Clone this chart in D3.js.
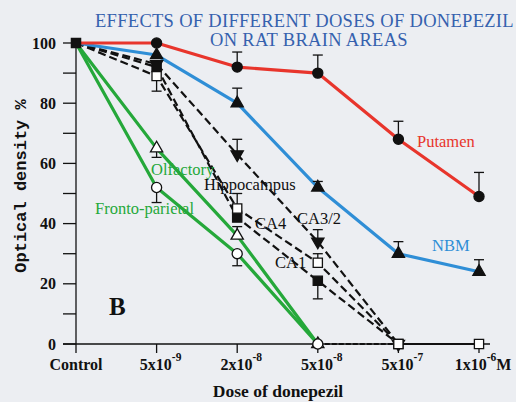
<!DOCTYPE html>
<html><head><meta charset="utf-8">
<script src="https://cdn.jsdelivr.net/npm/d3@7/dist/d3.min.js"></script>
<style>
html,body{margin:0;padding:0;background:#eceef2;overflow:hidden;}
svg{display:block;}
</style></head>
<body>
<svg id="c" width="516" height="402"></svg>
<script>
// ---- data ----
const doses = ["Control", "5e-9", "2e-8", "5e-8", "5e-7", "1e-6"];
const doseMantissa = ["Control", "5x10", "2x10", "5x10", "5x10", "1x10"];
const doseExp = ["", "-9", "-8", "-8", "-7", "-6"];
const yTicks = [0, 20, 40, 60, 80, 100];

const putamen = [100, 100, 92, 90, 68, 49];
const putamenErr = [0, 0, 5, 6, 6, 8];
const nbm = [100, 96, 80, 52, 30, 24];
const nbmErr = [0, 0, 5, 2, 4, 4];
const hippocampus = [100, 89, 45, 27, 0, 0];
const hippocampusErr = [0, -5, 5, 3, 0, 0];
const ca4 = [100, 92, 42, 21, 0];
const ca4Err = [0, 0, 0, -6, 0];
const ca32 = [100, 93, 63, 34, 0];
const ca32Err = [0, 0, 5, 4, 0];
const olfactory = [100, 65, 36, 0];
const olfactoryErr = [0, -3, 3, 0];
const fronto = [100, 52, 30, 0];
const frontoErr = [0, -5, -4, 0];
const zeroTail = [0, 0]; // dashed segment from 5e-8 to 5e-7 at 0

// ---- scales ----
const svg = d3.select("#c");
const x = d3.scalePoint().domain(doses).range([76, 479]);
const y = d3.scaleLinear().domain([0, 100]).range([344, 43]);

const RED = "#e8352c", BLUE = "#2f8ed6", GREEN = "#25a83a", BLACK = "#111";
const serif = "'Liberation Serif', 'Times New Roman', serif";

// title
svg.append("text").attr("x", 95).attr("y", 27).attr("fill", "#3561ae")
  .attr("font-family", serif).attr("font-size", 18.5).attr("letter-spacing", 0.3).text("EFFECTS OF DIFFERENT DOSES OF DONEPEZIL");
svg.append("text").attr("x", 309).attr("y", 46).attr("fill", "#3561ae").attr("text-anchor", "middle")
  .attr("font-family", serif).attr("font-size", 18.5).attr("letter-spacing", 0.3).text("ON RAT BRAIN AREAS");

// y axis
const gy = svg.append("g");
gy.append("line").attr("x1", 76).attr("x2", 76).attr("y1", y(100)).attr("y2", y(0)).attr("stroke", BLACK).attr("stroke-width", 1.3);
d3.range(0, 101, 10).forEach(v => {
  gy.append("line").attr("x1", 63).attr("x2", 76).attr("y1", y(v)).attr("y2", y(v)).attr("stroke", BLACK).attr("stroke-width", 1.3);
});
yTicks.forEach(v => {
  gy.append("text").attr("x", 56).attr("y", y(v) + 5.5).attr("text-anchor", "end")
    .attr("font-family", serif).attr("font-weight", "bold").attr("font-size", 16).attr("fill", BLACK).text(v);
});
svg.append("text").attr("transform", "translate(26,186) rotate(-90)").attr("text-anchor", "middle")
  .attr("font-family", "'Liberation Mono', 'Courier New', monospace").attr("font-weight", "bold")
  .attr("font-size", 17).attr("fill", BLACK).text("Optical density %");

// x axis
const gx = svg.append("g");
gx.append("line").attr("x1", 63).attr("x2", 490).attr("y1", y(0)).attr("y2", y(0)).attr("stroke", BLACK).attr("stroke-width", 1.3);
doses.forEach((d, i) => {
  gx.append("line").attr("x1", x(d)).attr("x2", x(d)).attr("y1", y(0)).attr("y2", y(0) + 9).attr("stroke", BLACK).attr("stroke-width", 1.3);
  const t = gx.append("text").attr("x", x(d) + (doseExp[i] ? 4 : 0)).attr("y", 370).attr("text-anchor", "middle")
    .attr("font-family", serif).attr("font-weight", "bold").attr("font-size", 16).attr("fill", BLACK);
  t.append("tspan").text(doseMantissa[i]);
  if (doseExp[i]) {
    t.append("tspan").attr("dy", -9).attr("font-size", 11.5).text(doseExp[i]);
    if (i === doses.length - 1) t.append("tspan").attr("dy", 9).text("M");
  }
});
svg.append("text").attr("x", 278).attr("y", 397).attr("text-anchor", "middle")
  .attr("font-family", serif).attr("font-weight", "bold").attr("font-size", 17.5).attr("fill", BLACK).text("Dose of donepezil");

svg.append("text").attr("x", 109).attr("y", 315).attr("font-family", serif).attr("font-weight", "bold")
  .attr("font-size", 25).attr("fill", BLACK).text("B");

// ---- series drawing ----
const line = d3.line().x((d, i) => x(doses[i])).y(d => y(d));
function drawLine(vals, color, dash, w) {
  svg.append("path").datum(vals).attr("d", line).attr("fill", "none").attr("stroke", color)
    .attr("stroke-width", w).attr("stroke-dasharray", dash || null).attr("stroke-linejoin", "round");
}
function drawErr(vals, errs) {
  vals.forEach((v, i) => {
    const e = errs[i]; if (!e) return;
    const cx = x(doses[i]);
    svg.append("line").attr("x1", cx).attr("x2", cx).attr("y1", y(v)).attr("y2", y(v + e)).attr("stroke", BLACK).attr("stroke-width", 1.3);
    svg.append("line").attr("x1", cx - 5).attr("x2", cx + 5).attr("y1", y(v + e)).attr("y2", y(v + e)).attr("stroke", BLACK).attr("stroke-width", 1.3);
  });
}
function drawMarkers(vals, type, fill, skipFirst) {
  vals.forEach((v, i) => {
    if (skipFirst && i === 0) return;
    const cx = x(doses[i]), cy = y(v);
    let sym;
    if (type === "circle") sym = d3.symbol(d3.symbolCircle, 80);
    else if (type === "square") sym = d3.symbol(d3.symbolSquare, 85);
    else sym = d3.symbol(d3.symbolTriangle, 65);
    const p = svg.append("path").attr("d", sym()).attr("fill", fill).attr("stroke", BLACK).attr("stroke-width", 1.3);
    if (type === "down") p.attr("transform", `translate(${cx},${cy}) rotate(180)`);
    else p.attr("transform", `translate(${cx},${cy})`);
  });
}

// dashed hippocampal lines
drawLine(ca32, BLACK, "8,4", 2.2);
drawLine(ca4, BLACK, "8,4", 2.2);
drawLine(hippocampus.slice(0, 5), BLACK, "8,4", 2.2);
// solid segment 5e-7 -> 1e-6
svg.append("line").attr("x1", x(doses[4])).attr("x2", x(doses[5])).attr("y1", y(hippocampus[4])).attr("y2", y(hippocampus[5]))
  .attr("stroke", BLACK).attr("stroke-width", 2);
// dashed tail at zero from 5e-8 to 5e-7
svg.append("line").attr("x1", x(doses[3])).attr("x2", x(doses[4])).attr("y1", y(zeroTail[0])).attr("y2", y(zeroTail[1]))
  .attr("stroke", BLACK).attr("stroke-width", 2).attr("stroke-dasharray", "5,2");

drawLine(olfactory, GREEN, null, 3.2);
drawLine(fronto, GREEN, null, 3.2);
drawLine(nbm, BLUE, null, 3.2);
drawLine(putamen, RED, null, 3.2);

drawErr(putamen, putamenErr);
drawErr(nbm, nbmErr);
drawErr(hippocampus, hippocampusErr);
drawErr(ca4, ca4Err);
drawErr(ca32, ca32Err);
drawErr(olfactory, olfactoryErr);
drawErr(fronto, frontoErr);

drawMarkers(ca32, "down", BLACK, true);
drawMarkers(ca4, "square", BLACK, false);
drawMarkers(hippocampus, "square", "#fff", true);
drawMarkers(olfactory, "triangle", "#fff", true);
drawMarkers(fronto, "circle", "#fff", true);
drawMarkers(nbm, "triangle", BLACK, true);
drawMarkers(putamen, "circle", BLACK, true);

// labels
function label(t, lx, ly, color) {
  svg.append("text").attr("x", lx).attr("y", ly).attr("fill", color).attr("font-family", serif)
    .attr("font-size", 16.5).text(t);
}
label("Putamen", 417, 147, RED);
label("NBM", 432, 251, BLUE);
label("Olfactory", 151, 175, GREEN);
label("Fronto-parietal", 95, 214, GREEN);
label("Hippocampus", 204, 190, BLACK);
label("CA4", 255, 229, BLACK);
label("CA3/2", 297, 224, BLACK);
label("CA1", 275, 268, BLACK);
</script>
</body></html>
